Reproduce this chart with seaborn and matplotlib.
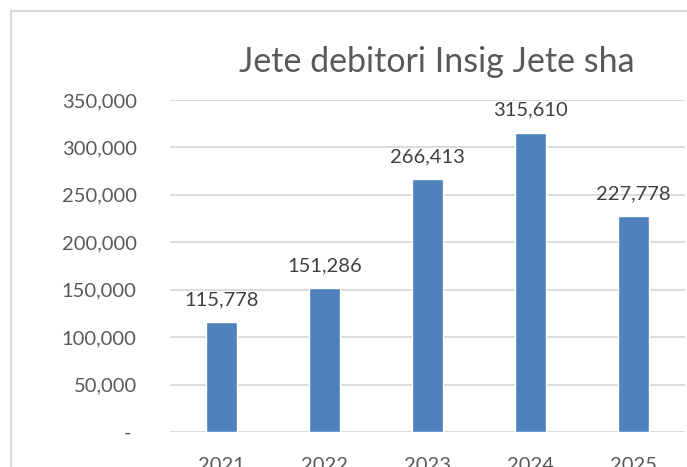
import matplotlib
matplotlib.use("Agg")
import matplotlib.pyplot as plt
import matplotlib.patches as mpatches
import seaborn as sns
import pandas as pd

years = ["2021", "2022", "2023", "2024", "2025"]
values = [115778, 151286, 266413, 315610, 227778]
yticks = [0, 50000, 100000, 150000, 200000, 250000, 300000, 350000]
title = "Jete debitori Insig Jete sha"

sns.set_theme(style="white")
plt.rcParams['font.family'] = ['Lato', 'DejaVu Sans']

W, H = 687, 467
fig = plt.figure(figsize=(W / 100, H / 100), dpi=100)
fig.patch.set_facecolor("white")

# chart frame (cropped at right/bottom)
fig.patches.append(mpatches.Rectangle((11 / W, -0.2), 2.0, (H - 11) / H + 0.2,
                                      transform=fig.transFigure, fill=False,
                                      edgecolor="#d9d9d9", linewidth=1.5))

ax = fig.add_axes([170 / W, (H - 432) / H, (685 - 170) / W, (432 - 100) / H])
df = pd.DataFrame({"year": years, "value": values})
sns.barplot(data=df, x="year", y="value", ax=ax, color="#4f81bd",
            saturation=1, width=0.31, zorder=3)

ax.set_ylim(0, 350000)
ax.set_xlim(-0.5, len(years) - 0.5)
ax.set_yticks(yticks)
ax.set_yticklabels([f"{v:,}" if v else "- " for v in yticks])
ax.yaxis.grid(True, color="#d9d9d9", linewidth=1.3, zorder=0)
ax.xaxis.grid(False)
for s in ax.spines.values():
    s.set_visible(False)
ax.tick_params(axis="y", length=0, pad=24, labelsize=14.5, labelcolor="#595959")
ax.tick_params(axis="x", length=0, pad=18, labelsize=14.5, labelcolor="#595959")
ax.set_xlabel("")
ax.set_ylabel("")

for i, v in enumerate(values):
    ax.annotate(f"{v:,}", (i, v), xytext=(0, 10), textcoords="offset points",
                ha="center", va="bottom", fontsize=14.5, color="#404040")

fig.text(437 / W, 1 - 62 / H, title, ha="center", va="center",
         fontsize=24.5, color="#595959")

fig.savefig("out.png", dpi=100)
